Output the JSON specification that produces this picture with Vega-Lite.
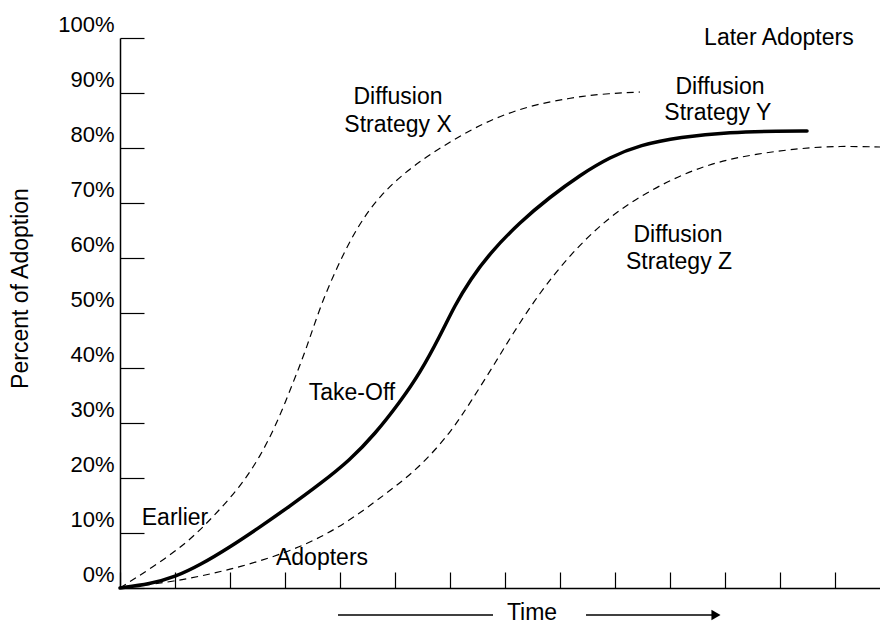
{
  "$schema": "https://vega.github.io/schema/vega-lite/v6.json",
  "width": 760,
  "height": 550,
  "autosize": {"type": "none"},
  "padding": {"left": 120, "top": 38, "right": 0, "bottom": 37},
  "background": "white",
  "config": {
    "view": {"stroke": null},
    "font": "Liberation Sans",
    "axis": {"domainColor": "black", "tickColor": "black", "labelColor": "black", "titleColor": "black", "grid": false}
  },
  "datasets": {
    "curves": [
      {"series": "Y", "t": 0, "pct": 0},
      {"series": "Y", "t": 0.545, "pct": 0.73},
      {"series": "Y", "t": 1.0, "pct": 2.0},
      {"series": "Y", "t": 1.455, "pct": 4.18},
      {"series": "Y", "t": 2.0, "pct": 7.45},
      {"series": "Y", "t": 2.545, "pct": 11.09},
      {"series": "Y", "t": 3.091, "pct": 14.91},
      {"series": "Y", "t": 3.636, "pct": 18.91},
      {"series": "Y", "t": 4.182, "pct": 23.27},
      {"series": "Y", "t": 4.636, "pct": 28.0},
      {"series": "Y", "t": 5.091, "pct": 33.82},
      {"series": "Y", "t": 5.455, "pct": 39.09},
      {"series": "Y", "t": 5.818, "pct": 45.82},
      {"series": "Y", "t": 6.091, "pct": 51.45},
      {"series": "Y", "t": 6.364, "pct": 56.0},
      {"series": "Y", "t": 6.727, "pct": 60.91},
      {"series": "Y", "t": 7.273, "pct": 66.55},
      {"series": "Y", "t": 7.818, "pct": 71.09},
      {"series": "Y", "t": 8.364, "pct": 75.09},
      {"series": "Y", "t": 8.909, "pct": 78.36},
      {"series": "Y", "t": 9.455, "pct": 80.55},
      {"series": "Y", "t": 10.182, "pct": 82.0},
      {"series": "Y", "t": 11.091, "pct": 82.91},
      {"series": "Y", "t": 12.0, "pct": 83.09},
      {"series": "Y", "t": 12.491, "pct": 83.09},
      {"series": "X", "t": 0, "pct": 0},
      {"series": "X", "t": 0.6, "pct": 3.82},
      {"series": "X", "t": 1.218, "pct": 8.18},
      {"series": "X", "t": 1.691, "pct": 12.91},
      {"series": "X", "t": 2.182, "pct": 18.36},
      {"series": "X", "t": 2.545, "pct": 23.82},
      {"series": "X", "t": 2.855, "pct": 30.0},
      {"series": "X", "t": 3.145, "pct": 37.27},
      {"series": "X", "t": 3.4, "pct": 43.82},
      {"series": "X", "t": 3.636, "pct": 51.09},
      {"series": "X", "t": 3.945, "pct": 58.36},
      {"series": "X", "t": 4.309, "pct": 65.64},
      {"series": "X", "t": 4.727, "pct": 71.45},
      {"series": "X", "t": 5.273, "pct": 76.36},
      {"series": "X", "t": 5.818, "pct": 80.0},
      {"series": "X", "t": 6.364, "pct": 83.27},
      {"series": "X", "t": 6.909, "pct": 85.82},
      {"series": "X", "t": 7.509, "pct": 87.82},
      {"series": "X", "t": 8.182, "pct": 89.09},
      {"series": "X", "t": 8.727, "pct": 89.82},
      {"series": "X", "t": 9.455, "pct": 90.18},
      {"series": "Z", "t": 0, "pct": 0},
      {"series": "Z", "t": 0.964, "pct": 1.09},
      {"series": "Z", "t": 2.0, "pct": 3.27},
      {"series": "Z", "t": 3.036, "pct": 6.36},
      {"series": "Z", "t": 3.945, "pct": 10.55},
      {"series": "Z", "t": 4.855, "pct": 17.27},
      {"series": "Z", "t": 5.455, "pct": 22.0},
      {"series": "Z", "t": 6.018, "pct": 28.36},
      {"series": "Z", "t": 6.364, "pct": 33.64},
      {"series": "Z", "t": 6.855, "pct": 41.45},
      {"series": "Z", "t": 7.091, "pct": 45.45},
      {"series": "Z", "t": 7.636, "pct": 53.82},
      {"series": "Z", "t": 8.182, "pct": 60.55},
      {"series": "Z", "t": 8.727, "pct": 66.0},
      {"series": "Z", "t": 9.327, "pct": 70.55},
      {"series": "Z", "t": 10.236, "pct": 75.45},
      {"series": "Z", "t": 11.145, "pct": 78.36},
      {"series": "Z", "t": 12.364, "pct": 80.0},
      {"series": "Z", "t": 13.091, "pct": 80.36},
      {"series": "Z", "t": 13.818, "pct": 80.18}
    ],
    "labels": [
      {"label": "Later Adopters", "t": 11.98, "pct": 100.0},
      {"label": "Diffusion", "t": 10.909, "pct": 91.09},
      {"label": "Strategy Y", "t": 10.87, "pct": 86.36},
      {"label": "Diffusion", "t": 5.055, "pct": 89.27},
      {"label": "Strategy X", "t": 5.055, "pct": 84.18},
      {"label": "Diffusion", "t": 10.145, "pct": 64.18},
      {"label": "Strategy Z", "t": 10.164, "pct": 59.27},
      {"label": "Take-Off", "t": 4.218, "pct": 35.45},
      {"label": "Earlier", "t": 1.0, "pct": 12.73},
      {"label": "Adopters", "t": 3.673, "pct": 5.45},
      {"label": "Time", "t": 7.491, "pct": -4.6}
    ],
    "arrows": [
      {"t1": 3.964, "t2": 6.782, "pct": -4.91},
      {"t1": 8.473, "t2": 10.85, "pct": -4.91}
    ],
    "heads": [
      {"t": 10.836, "pct": -4.91}
    ]
  },
  "layer": [
    {
      "data": {"name": "curves"},
      "transform": [{"filter": "datum.series !== 'Y'"}],
      "mark": {"type": "line", "interpolate": "basis", "color": "black", "strokeWidth": 1.2, "strokeDash": [7, 5]},
      "encoding": {
        "x": {"field": "t", "type": "quantitative", "scale": {"domain": [0, 13.818], "nice": false, "zero": false},
          "axis": {"values": [0, 1, 2, 3, 4, 5, 6, 7, 8, 9, 10, 11, 12, 13], "labels": false, "tickSize": -16, "title": null, "domainWidth": 1.5, "tickWidth": 1.2}},
        "y": {"field": "pct", "type": "quantitative", "scale": {"domain": [0, 100], "nice": false},
          "axis": {"values": [0, 10, 20, 30, 40, 50, 60, 70, 80, 90, 100], "labelExpr": "datum.value + '%'", "tickSize": -24, "labelPadding": 30, "labelOffset": -14, "labelFontSize": 22, "labelFont": "Liberation Sans", "domainWidth": 1.5, "tickWidth": 1.2,
            "title": "Percent of Adoption", "titleFontSize": 23, "titleFontWeight": "normal", "titleFont": "Liberation Sans", "titleX": -88, "titleY": 250}},
        "detail": {"field": "series"}
      }
    },
    {
      "data": {"name": "curves"},
      "transform": [{"filter": "datum.series === 'Y'"}],
      "mark": {"type": "line", "interpolate": "basis", "color": "black", "strokeWidth": 3.5, "strokeCap": "round"},
      "encoding": {
        "x": {"field": "t", "type": "quantitative"},
        "y": {"field": "pct", "type": "quantitative"}
      }
    },
    {
      "data": {"name": "labels"},
      "mark": {"type": "text", "fontSize": 23, "font": "Liberation Sans", "color": "black", "align": "center", "baseline": "middle"},
      "encoding": {
        "x": {"field": "t", "type": "quantitative"},
        "y": {"field": "pct", "type": "quantitative"},
        "text": {"field": "label"}
      }
    },
    {
      "data": {"name": "arrows"},
      "mark": {"type": "rule", "color": "black", "strokeWidth": 1.5},
      "encoding": {
        "x": {"field": "t1", "type": "quantitative"},
        "x2": {"field": "t2"},
        "y": {"field": "pct", "type": "quantitative"}
      }
    },
    {
      "data": {"name": "heads"},
      "mark": {"type": "point", "shape": "triangle-right", "filled": true, "color": "black", "size": 110, "opacity": 1},
      "encoding": {
        "x": {"field": "t", "type": "quantitative"},
        "y": {"field": "pct", "type": "quantitative"}
      }
    }
  ]
}
